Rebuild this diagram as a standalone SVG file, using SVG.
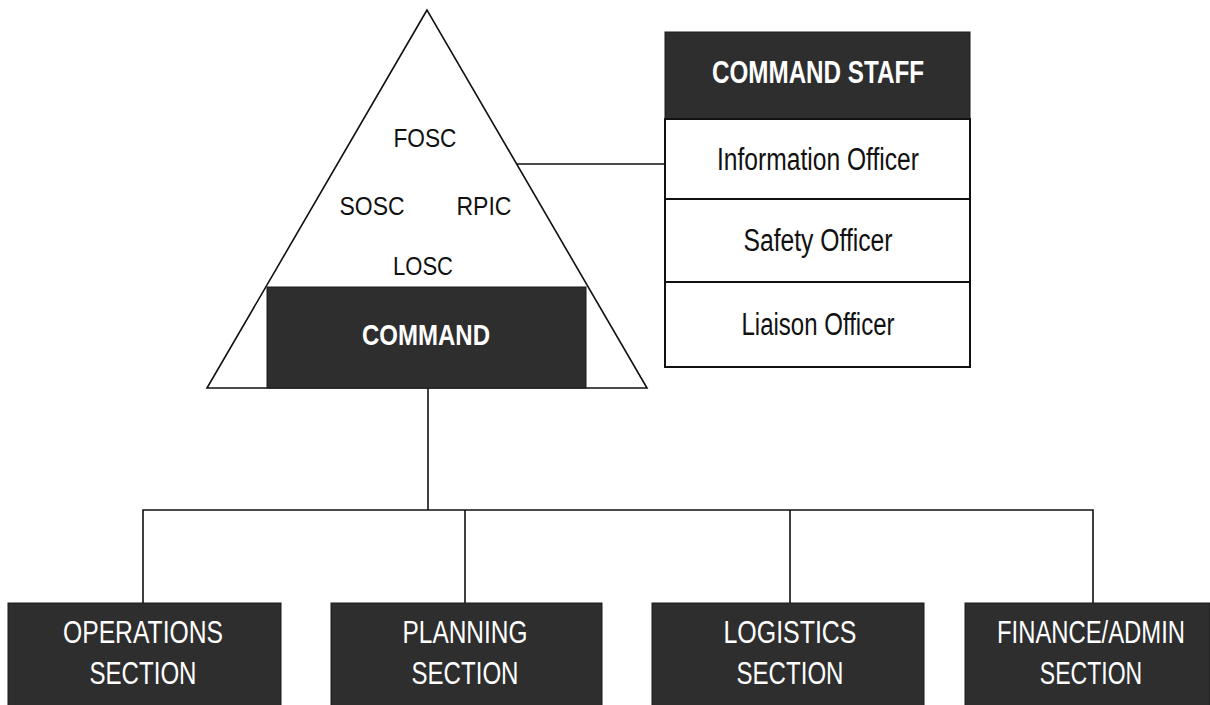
<svg xmlns="http://www.w3.org/2000/svg" width="1210" height="705" viewBox="0 0 1210 705">
<style>
.dark{fill:#2e2e2e;stroke:#1a1a1a;stroke-width:1}
.cell{fill:#ffffff;stroke:#111;stroke-width:2}
.ln{stroke:#111;stroke-width:1.6;fill:none}
.blk{font-family:"Liberation Sans",Arial,sans-serif;fill:#111;text-anchor:middle}
.wb{font-family:"Liberation Sans",Arial,sans-serif;fill:#fff;font-weight:bold;text-anchor:middle}
.wr{font-family:"Liberation Sans",Arial,sans-serif;fill:#fff;text-anchor:middle;font-size:32px}
</style>
<rect x="0" y="0" width="1210" height="705" fill="#fff"/>
<g id="connectors">
<line class="ln" x1="517" y1="164" x2="665" y2="164"/>
<line class="ln" x1="428" y1="388" x2="428" y2="510"/>
<polyline class="ln" points="143,603 143,510 1093,510 1093,603"/>
<line class="ln" x1="465" y1="510" x2="465" y2="603"/>
<line class="ln" x1="790" y1="510" x2="790" y2="603"/>
</g>
<g id="command-pyramid">
<polygon points="427,10 207,388 647,388" fill="#fff" stroke="#111" stroke-width="1.6"/>
<text class="blk" x="425" y="147" font-size="25" textLength="63" lengthAdjust="spacingAndGlyphs">FOSC</text>
<text class="blk" x="372" y="215" font-size="25" textLength="65" lengthAdjust="spacingAndGlyphs">SOSC</text>
<text class="blk" x="484" y="215" font-size="25" textLength="55" lengthAdjust="spacingAndGlyphs">RPIC</text>
<text class="blk" x="423" y="275" font-size="25" textLength="60" lengthAdjust="spacingAndGlyphs">LOSC</text>
</g>
<g id="command">
<rect class="dark" x="267" y="287" width="319" height="101"/>
<text class="wb" x="426" y="345" font-size="30" textLength="128" lengthAdjust="spacingAndGlyphs">COMMAND</text>
</g>
<g id="command-staff">
<rect class="dark" x="665" y="32" width="305" height="87"/>
<text class="wb" x="818" y="83" font-size="32" textLength="212" lengthAdjust="spacingAndGlyphs">COMMAND STAFF</text>
</g>
<g id="information-officer">
<rect class="cell" x="665" y="119" width="305" height="80"/>
<text class="blk" x="818" y="170" font-size="31" textLength="202" lengthAdjust="spacingAndGlyphs">Information Officer</text>
</g>
<g id="safety-officer">
<rect class="cell" x="665" y="199" width="305" height="83"/>
<text class="blk" x="818" y="251" font-size="31" textLength="149" lengthAdjust="spacingAndGlyphs">Safety Officer</text>
</g>
<g id="liaison-officer">
<rect class="cell" x="665" y="282" width="305" height="85"/>
<text class="blk" x="818" y="335" font-size="31" textLength="153" lengthAdjust="spacingAndGlyphs">Liaison Officer</text>
</g>
<g id="operations-section">
<rect class="dark" x="8" y="603" width="273" height="105"/>
<text class="wr" x="143" y="643" textLength="160" lengthAdjust="spacingAndGlyphs">OPERATIONS</text>
<text class="wr" x="143" y="684" textLength="107" lengthAdjust="spacingAndGlyphs">SECTION</text>
</g>
<g id="planning-section">
<rect class="dark" x="331" y="603" width="271" height="105"/>
<text class="wr" x="465" y="643" textLength="125" lengthAdjust="spacingAndGlyphs">PLANNING</text>
<text class="wr" x="465" y="684" textLength="107" lengthAdjust="spacingAndGlyphs">SECTION</text>
</g>
<g id="logistics-section">
<rect class="dark" x="652" y="603" width="272" height="105"/>
<text class="wr" x="790" y="643" textLength="133" lengthAdjust="spacingAndGlyphs">LOGISTICS</text>
<text class="wr" x="790" y="684" textLength="107" lengthAdjust="spacingAndGlyphs">SECTION</text>
</g>
<g id="finance-admin-section">
<rect class="dark" x="965" y="603" width="245" height="105"/>
<text class="wr" transform="translate(1091,643) scale(0.745,1)" x="0" y="0">FINANCE/ADMIN</text>
<text class="wr" transform="translate(1091,684) scale(0.72,1)" x="0" y="0">SECTION</text>
</g>
</svg>
